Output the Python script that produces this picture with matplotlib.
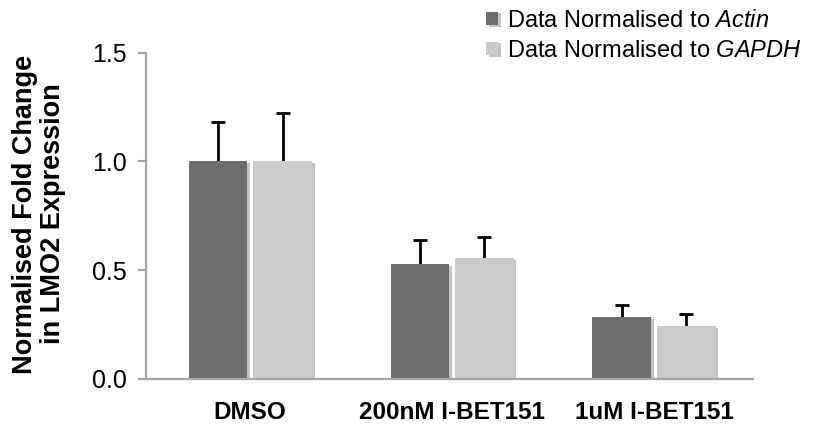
import matplotlib
matplotlib.use("Agg")
import matplotlib.pyplot as plt
import matplotlib.patheffects as pe
import numpy as np

plt.rcParams['font.family'] = ['Liberation Sans', 'DejaVu Sans']
plt.rcParams['mathtext.fontset'] = 'custom'
plt.rcParams['mathtext.it'] = 'Liberation Sans:italic'
plt.rcParams['mathtext.rm'] = 'Liberation Sans'

categories = ["DMSO", "200nM I-BET151", "1uM I-BET151"]
actin = [1.0, 0.527, 0.284]
actin_err = [0.18, 0.113, 0.056]
gapdh = [1.0, 0.555, 0.243]
gapdh_err = [0.222, 0.10, 0.055]
yticks = [0.0, 0.5, 1.0, 1.5]
ytick_labels = ["0.0", "0.5", "1.0", "1.5"]

fig = plt.figure(figsize=(8.13, 4.29), dpi=100)
ax = fig.add_axes([146/813, 1-379/429, (753-146)/813, (379-52.7)/429])

x = np.arange(len(categories))
w = 0.29
off = 0.16
shadow = [pe.SimplePatchShadow(offset=(2, -1), shadow_rgbFace='#555555', alpha=0.35), pe.Normal()]
b1 = ax.bar(x - off, actin, w, color='#6d6d6d', label='Data Normalised to $\\it{Actin}$', zorder=2)
b2 = ax.bar(x + off, gapdh, w, color='#cbcbcb', label='Data Normalised to $\\it{GAPDH}$', zorder=2)
for b in list(b1) + list(b2):
    b.set_path_effects(shadow)
ax.errorbar(x - off, actin, yerr=actin_err, fmt='none', ecolor='black',
            elinewidth=2, capsize=4.8, capthick=2, zorder=1)
ax.errorbar(x + off, gapdh, yerr=gapdh_err, fmt='none', ecolor='black',
            elinewidth=2, capsize=4.8, capthick=2, zorder=1)

ax.set_xlim(-0.516, 2.49)
ax.set_ylim(0, 1.5)
ax.set_yticks(yticks)
ax.set_yticklabels(ytick_labels, fontsize=18)
ax.set_xticks(x)
ax.set_xticklabels(categories, fontsize=17.5, fontweight='bold')
ax.tick_params(axis='x', length=0, pad=16)
ax.tick_params(axis='y', length=6, width=1.5, color='#a0a0a0', pad=8)
for s in ['top', 'right']:
    ax.spines[s].set_visible(False)
for s in ['left', 'bottom']:
    ax.spines[s].set_color('#a6a6a6')
    ax.spines[s].set_linewidth(1.6)
ax.spines['left'].set_zorder(4)

fig.text(39/813, 1-214/429, "Normalised Fold Change\nin LMO2 Expression", rotation=90,
         ha='center', va='center', fontsize=19.5, fontweight='bold', linespacing=1.15)

leg = fig.legend(handles=[b1, b2], loc='upper left', bbox_to_anchor=(472/813, 1.01),
                 frameon=False, fontsize=17, handlelength=0.5, handleheight=0.5,
                 handletextpad=0.4, labelspacing=0.35, borderaxespad=0.2)

fig.savefig("out.png", dpi=100)
